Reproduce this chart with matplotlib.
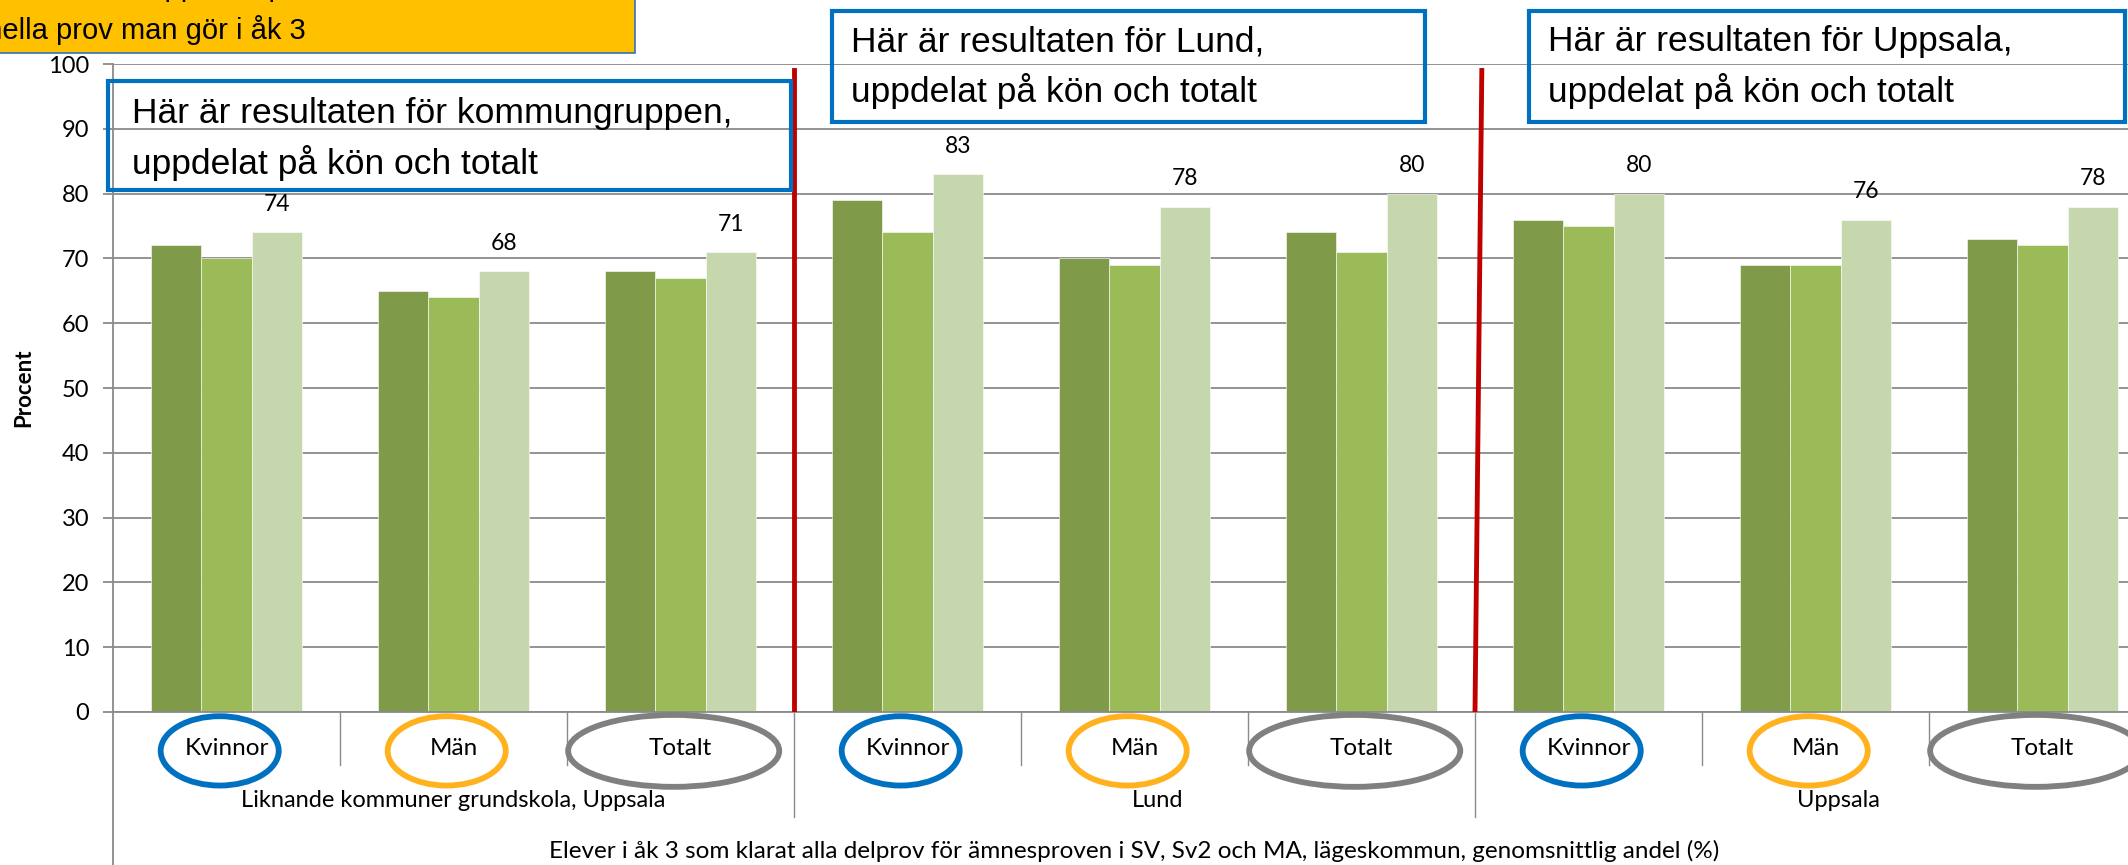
import matplotlib
matplotlib.use('Agg')
import matplotlib.pyplot as plt
from matplotlib.patches import Rectangle, Ellipse
import numpy as np

# data
groups = ['Liknande kommuner grundskola, Uppsala', 'Lund', 'Uppsala']
group_pos = [1.0, 4.1, 7.1]
categories = ['Kvinnor', 'Män', 'Totalt'] * 3
series_dark = [72, 65, 68, 79, 70, 74, 76, 69, 73]
series_mid = [70, 64, 67, 74, 69, 71, 75, 69, 72]
series_light = [74, 68, 71, 83, 78, 80, 80, 76, 78]
box_texts = ['Här är resultaten för kommungruppen,\nuppdelat på kön och totalt',
             'Här är resultaten för Lund,\nuppdelat på kön och totalt',
             'Här är resultaten för Uppsala,\nuppdelat på kön och totalt']
yellow_lines = ['Här är resultaten uppdelat på de', 'nationella prov man gör i åk 3']
xtitle = 'Elever i åk 3 som klarat alla delprov för ämnesproven i SV, Sv2 och MA, lägeskommun, genomsnittlig andel (%)'

bar_colors = ['#7F9B4A', '#9BBB59', '#C6D7AD']
ring_colors = {'Kvinnor': '#0070C0', 'Män': '#FFB21E', 'Totalt': '#808080'}
grid_c = '#8A8A8A'
box_font = ['Liberation Sans', 'DejaVu Sans']
plt.rcParams['font.family'] = ['Lato', 'DejaVu Sans']

W, H = 2128, 865
fig = plt.figure(figsize=(W / 100, H / 100), dpi=100)
ax = fig.add_axes([113 / W, (H - 712) / H, 2043 / W, 648 / H])

x = np.arange(len(categories))
bw = 0.222
for i, (vals, col) in enumerate(zip([series_dark, series_mid, series_light], bar_colors)):
    ax.bar(x + (i - 1) * bw, vals, bw, color=col, edgecolor='white', linewidth=0.4, zorder=2)

for xi, v in zip(x, series_light):
    ax.annotate(str(v), (xi + bw, v), xytext=(0, 20), textcoords='offset points',
                ha='center', va='center', fontsize=16.5)

ax.set_xlim(-0.5, 8.5)
ax.set_ylim(0, 100)
ax.set_yticks(range(0, 101, 10))
ax.set_xticks([])
ax.yaxis.grid(True, color=grid_c, lw=1.3)
ax.set_axisbelow(True)
for s in ['top', 'right']:
    ax.spines[s].set_visible(False)
for s in ['left', 'bottom']:
    ax.spines[s].set_color(grid_c)
    ax.spines[s].set_linewidth(1.3)
ax.tick_params(axis='y', length=7, width=1.3, color=grid_c, labelsize=17, pad=10)

fig.text(24 / W, 1 - 388 / H, 'Procent', rotation=90, ha='center', va='center',
         fontsize=16, fontweight='bold')

# category axis: separators, labels, rings
ax.plot([-0.5, -0.5], [0, -24], color=grid_c, lw=1.3, clip_on=False)
for sep in [0.5, 1.5, 3.5, 4.5, 6.5, 7.5]:
    ax.plot([sep, sep], [0, -8.2], color=grid_c, lw=1, clip_on=False)
for sep in [2.5, 5.5]:
    ax.plot([sep, sep], [0, -16.2], color=grid_c, lw=1, clip_on=False)

for xi, cat in zip(x, categories):
    ax.text(xi, -5.7, cat, ha='center', va='center', fontsize=17.5)
    w, h = (0.93, 11.1) if cat == 'Totalt' else (0.52, 10.7)
    ax.add_patch(Ellipse((xi - 0.03, -6.0), w, h, fill=False, ec=ring_colors[cat],
                         lw=4.2, clip_on=False, zorder=5))

for gx, g in zip(group_pos, groups):
    ax.text(gx, -13.6, g, ha='center', va='center', fontsize=17)

ax.text(0.5, -0.215, xtitle, transform=ax.transAxes, ha='center', va='center', fontsize=17.5)

# red dividers
ax.plot([2.5, 2.5], [0, 99], color='#C00000', lw=3.5, zorder=4)
ax.plot([5.5, 5.53], [0, 99], color='#C00000', lw=3.5, zorder=4)

# blue annotation boxes (pixel coords from top-left)
boxes = [(108, 81, 791, 190, 132), (832, 11, 1425, 122, 851), (1529, 11, 2125, 122, 1548)]
for (x0, y0, x1, y1, tx), txt in zip(boxes, box_texts):
    fig.patches.append(Rectangle((x0 / W, 1 - y1 / H), (x1 - x0) / W, (y1 - y0) / H,
                                 transform=fig.transFigure, fill=False, ec='#0070C0', lw=3))
    ymid = (y0 + y1) / 2 + (3 if y0 > 50 else 0)
    for k, line in enumerate(txt.split('\n')):
        fig.text(tx / W, 1 - (ymid + (k - 0.5) * 49) / H, line, ha='left', va='center',
                 fontsize=25.5, family=box_font)

# yellow note, cut off by the top left corner
fig.patches.append(Rectangle((-10 / W, 1 - 53 / H), 645 / W, 70 / H, transform=fig.transFigure,
                             fc='#FFC000', ec='#2E75B6', lw=1.2))
t2 = fig.text(306 / W, 1 - 30 / H, yellow_lines[1], ha='right', va='center',
              fontsize=21, family=box_font)
fig.canvas.draw()
left = t2.get_window_extent().x0
fig.text(left / W, 1 + 13 / H, yellow_lines[0], ha='left', va='center',
         fontsize=21, family=box_font)

fig.savefig('out.png', dpi=100)
